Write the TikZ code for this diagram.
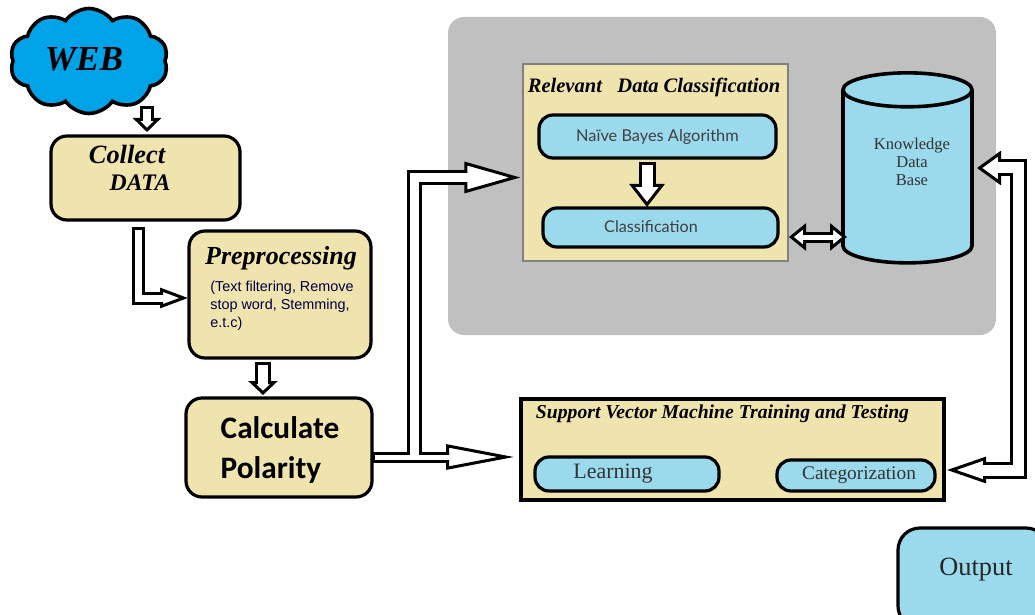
\documentclass[tikz,border=0pt]{standalone}
\usepackage{fontspec}
\setmainfont{Liberation Serif}
\newfontfamily\carlitofont{Carlito}
\newfontfamily\arialfont{Liberation Sans}
\newfontfamily\latofont{Lato}
\usetikzlibrary{calc,arrows.meta,shapes.geometric,shapes.symbols}

\definecolor{paleyellow}{HTML}{F0E4AE}
\definecolor{skyfill}{HTML}{9ADAEC}
\definecolor{webblue}{HTML}{00A2E8}
\definecolor{panelgray}{HTML}{C0C0C0}
\newcommand{\dotw}{0.02cm}

\tikzset{
  softbox/.style={draw=black,fill=paleyellow,line width=3.2*\dotw,rounded corners=16*\dotw,outer sep=0pt,inner sep=0pt},
  pill/.style={draw=black,fill=skyfill,line width=3.2*\dotw,rounded corners=14*\dotw,outer sep=0pt,inner sep=0pt},
  scripttext/.style={font=\bfseries\itshape\fontsize{#1}{#1}\selectfont,inner sep=0pt},
  hollowline/.style n args={4}{draw=black,line width=#1*\dotw,shorten >=#4*\dotw,
    -{Triangle[length=#2*\dotw,width=#3*\dotw,line width=3*\dotw,fill=white]}},
  hollowcore/.style n args={4}{draw=white,line width=(#1-6)*\dotw,shorten >=(#4+#2-5)*\dotw,-},
  hollow/.style n args={4}{hollowline={#1}{#2}{#3}{#4},
    postaction={hollowcore={#1}{#2}{#3}{#4},shorten <=3*\dotw}}
}

\begin{document}
\begin{tikzpicture}[x=0.02cm,y=-0.02cm]
\clip (0,0) rectangle (1035,615);

\node[fill=panelgray,rounded corners=16*\dotw,minimum width=548*\dotw,minimum height=318*\dotw,inner sep=0pt] (panel) at (722,176) {};
\node[draw=gray,fill=paleyellow,line width=1.2*\dotw,minimum width=265*\dotw,minimum height=197*\dotw,inner sep=0pt] (relevant) at (655.5,162.5) {};
\node[pill,minimum width=237*\dotw,minimum height=43*\dotw] (naive) at (657.5,136.5) {\latofont\fontsize{9.3}{11}\selectfont\color{black!75} Naïve Bayes Algorithm};
\node[pill,minimum width=235*\dotw,minimum height=39*\dotw] (classify) at (660.5,227.5) {};
\node[inner sep=0pt,font=\latofont\fontsize{9.2}{11}\selectfont,text=black!75] (classifytext) at (651,227) {Classification};
\node[scripttext=11.7] (relevanttitle) at (654,87) {Relevant\ \ \ Data Classification};

\node[cylinder,shape border rotate=90,aspect=0.42,draw=black,fill=skyfill,cylinder uses custom fill,cylinder body fill=skyfill,cylinder end fill=skyfill,line width=3.6*\dotw,minimum width=129*\dotw,minimum height=190*\dotw,inner sep=2pt,outer sep=0pt] (kb) at (907.5,180) {\phantom{\rule{42pt}{30pt}}};
\node[align=center,inner sep=0pt,font=\fontsize{9.4}{10.2}\selectfont,text=black!80] (kbtext) at (912,162) {Knowledge\\Data\\Base};

\node[cloud,cloud puffs=10,cloud puff arc=110,aspect=1.5,draw=black,fill=webblue,line width=3.6*\dotw,minimum width=158*\dotw,minimum height=105*\dotw,inner sep=0pt,outer sep=0pt] (web) at (89,61) {};
\node[scripttext=20] (webtext) at (84,59) {WEB};

\node[softbox,minimum width=189*\dotw,minimum height=84*\dotw] (collect) at (145.5,178) {};
\node[scripttext=15] (collecttext) at (127,154) {Collect};
\node[scripttext=13.5] (datatext) at (140,183) {DATA};

\node[softbox,minimum width=182*\dotw,minimum height=127*\dotw] (preprocess) at (280,294.5) {};
\node[scripttext=14.8] (preprocesstext) at (281,258) {Preprocessing};
\node[align=left,inner sep=0pt,font=\arialfont\fontsize{8.2}{10.2}\selectfont,text=black!75!blue] (filtertext) at (282,306) {(Text filtering, Remove\\stop word, Stemming,\\e.t.c)};

\node[softbox,minimum width=186*\dotw,minimum height=99*\dotw] (polarity) at (279,447.5) {};
\node[align=left,inner sep=0pt,font=\carlitofont\bfseries\fontsize{17.8}{23}\selectfont] (polaritytext) at (280,450) {Calculate\\Polarity};

\node[draw=black,fill=paleyellow,line width=3.6*\dotw,minimum width=423*\dotw,minimum height=101*\dotw,inner sep=0pt,outer sep=0pt] (svm) at (732.5,449.5) {};
\node[scripttext=11.2] (svmtitle) at (722.5,414) {Support Vector Machine Training and Testing};
\node[pill,minimum width=184*\dotw,minimum height=34*\dotw] (learning) at (627,474) {};
\node[inner sep=0pt,font=\fontsize{12.5}{14}\selectfont,text=black!80] (learningtext) at (613,474) {Learning};
\node[pill,minimum width=158*\dotw,minimum height=31*\dotw] (categorize) at (856,475.5) {};
\node[inner sep=0pt,font=\fontsize{11}{13}\selectfont,text=black!80] (categorizetext) at (859,475) {Categorization};

\node[softbox,fill=skyfill,rounded corners=22*\dotw,minimum width=150*\dotw,minimum height=100*\dotw] (output) at (973,578) {};
\node[inner sep=0pt,font=\fontsize{15}{17}\selectfont,text=black!85] (outputtext) at (976,570) {Output};

\coordinate (webdrop) at (147,106);
\coordinate (collectdrop) at (138,227);
\coordinate (prepdrop) at (263,362);
\coordinate (naivedrop) at (647,162);
\coordinate (linkmid) at (818,237);
\coordinate (fork) at (414.5,457);
\coordinate (upperin) at (500,177.5);
\coordinate (rightmid) at (1018,300);
\coordinate (kbin) at (1000,168);
\coordinate (catin) at (1000,470);

\draw[hollow={14}{14}{28}{4}] (webdrop) -- (webdrop |- collect.north);
\draw[hollow={13}{28}{20}{1}] (collectdrop) |- ([yshift=-0.07cm]preprocess.west);
\draw[hollow={16}{14}{29}{3}] (prepdrop) -- (prepdrop |- polarity.north);
\draw[hollow={17}{23}{35}{1}] (naivedrop) -- (naivedrop |- classify.north);

\draw[hollowline={11}{17}{27}{11}] (linkmid) -- (linkmid -| classify.east);
\draw[hollowline={11}{17}{27}{-4}] (linkmid) -- (linkmid -| kb.west);
\draw[hollowcore={11}{17}{27}{11}] (linkmid) -- (linkmid -| classify.east);
\draw[hollowcore={11}{17}{27}{-4}] (linkmid) -- (linkmid -| kb.west);

\draw[hollowline={11}{68}{25}{7}] (polarity.east |- fork) -- (svm.west |- fork);
\draw[hollowline={15}{56}{31}{2}] (fork) |- (relevant.west |- upperin);
\draw[hollowcore={11}{68}{25}{7},shorten <=3*\dotw] (polarity.east |- fork) -- (svm.west |- fork);
\draw[hollowcore={15}{56}{31}{2}] (fork) |- (relevant.west |- upperin);

\draw[hollowline={17}{24}{34}{5}] (rightmid) |- (kb.east |- kbin);
\draw[hollowline={17}{39}{26}{3}] (rightmid) |- (svm.east |- catin);
\draw[hollowcore={17}{24}{34}{5}] (rightmid) |- (kb.east |- kbin);
\draw[hollowcore={17}{39}{26}{3}] (rightmid) |- (svm.east |- catin);
\end{tikzpicture}
\end{document}
